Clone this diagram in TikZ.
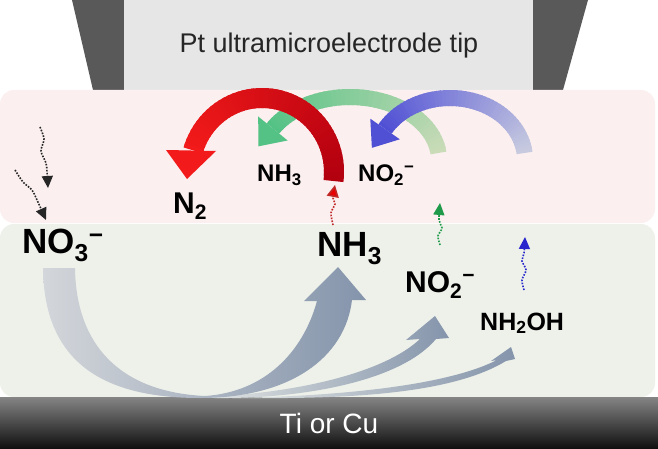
\documentclass[tikz,border=0pt]{standalone}
\usepackage{fontspec}
\setmainfont{Liberation Sans}
\usetikzlibrary{arrows.meta}

\definecolor{tipdark}{HTML}{595959}
\definecolor{tiplight}{HTML}{E6E6E6}
\definecolor{pinkbg}{HTML}{FBEFEF}
\definecolor{greenbg}{HTML}{EEF1EA}
\definecolor{barTop}{HTML}{858585}
\definecolor{barBot}{HTML}{0E0E0E}
\definecolor{redtail}{HTML}{B3000F}
\definecolor{redhead}{HTML}{F21A1A}
\definecolor{grntail}{HTML}{CADBB8}
\definecolor{grnhead}{HTML}{55C285}
\definecolor{blutail}{HTML}{C8CBDF}
\definecolor{bluhead}{HTML}{5050D5}
\definecolor{arrLight}{HTML}{D3D6DA}
\definecolor{arrFaint}{HTML}{E2E5E3}
\definecolor{arrDark}{HTML}{8494AB}
\definecolor{dotred}{HTML}{C02828}
\definecolor{headred}{HTML}{E80000}
\definecolor{dotgrn}{HTML}{1E9A4A}
\definecolor{dotblu}{HTML}{2626CC}

\newif\ifgbhead
\gbheadtrue
% gradient band along an elliptic arc: cx, cy, rx, ry, t0, t1, width, tail colour, head colour
\newcommand{\gbandarc}[9]{%
  \foreach \gbI in {0,...,47}{%
    \pgfmathsetmacro\gbA{#5+(#6-#5)*\gbI/48}%
    \pgfmathsetmacro\gbB{#5+(#6-#5)*min(\gbI+1.6,48)/48}%
    \pgfmathtruncatemacro\gbP{100*\gbI/47}%
    \colorlet{bandcol}{#9!\gbP!#8}%
    \draw[bandcol, line width=#7pt] plot[domain=\gbA:\gbB, samples=5, variable=\gbT] ({#1+#3*cos(\gbT)},{#2-#4*sin(\gbT)});%
  }%
  \ifgbhead
  \pgfmathsetmacro\gbBx{#1+#3*cos(#6)}%
  \pgfmathsetmacro\gbBy{#2-#4*sin(#6)}%
  \pgfmathsetmacro\gbDx{-#3*sin(#6)}%
  \pgfmathsetmacro\gbDy{-#4*cos(#6)}%
  \pgfmathsetmacro\gbN{sqrt(\gbDx*\gbDx+\gbDy*\gbDy)}%
  \pgfmathsetmacro\gbUx{\gbDx/\gbN}%
  \pgfmathsetmacro\gbUy{\gbDy/\gbN}%
  \fill[#9] ({\gbBx+\headL*\gbUx},{\gbBy+\headL*\gbUy}) -- ({\gbBx+\headH*\gbUy},{\gbBy-\headH*\gbUx}) -- ({\gbBx-\headH*\gbUy},{\gbBy+\headH*\gbUx}) -- cycle;%
  \fi
}

\tikzset{
  chem/.style={inner sep=0pt, anchor=base west, text=black},
  dotarrow/.style={line width=1.6pt, dash pattern=on 1.6pt off 1.4pt, -{Triangle[length=12pt,width=11pt]}},
}

\begin{document}
\begin{tikzpicture}[x=1pt,y=-1pt]
\useasboundingbox (0,0) rectangle (658,449);

% electrode tip
\fill[tipdark] (72,0) -- (588,0) -- (563,90) -- (93,90) -- cycle;
\fill[tiplight] (124,0) rectangle (533,90);
\node[font=\fontsize{27}{30}\selectfont, text=black!85, inner sep=0pt] (tiplabel) at (329,46) {Pt ultramicroelectrode tip};

% layers
\fill[pinkbg, rounded corners=14pt] (0,90) rectangle (655,223);
\fill[greenbg, rounded corners=14pt] (0,224) rectangle (655,397);

% substrate
\shade[top color=barTop, bottom color=barBot] (0,397) rectangle (658,449);
\node[font=\fontsize{28}{30}\selectfont, text=white, inner sep=0pt] (subst) at (329,423) {Ti or Cu};

% bottom conversion arrows
\shade[left color=arrFaint, right color=arrDark]
  (232,398) .. controls (350,396) and (450,384) .. (497,360) -- (491,361) -- (511,347) -- (515,359) -- (506,361)
  .. controls (455,392) and (360,399) .. (250,398) -- cycle;
\shade[left color=arrFaint, right color=arrDark]
  (205,397) .. controls (300,393) and (385,372) .. (420,339) -- (406,340) -- (435,316) -- (449,338) -- (436,339)
  .. controls (400,382) and (300,399) .. (215,398) -- cycle;
\shade[left color=arrLight, right color=arrDark]
  (43,268) .. controls (44,360) and (100,398) .. (200,398) .. controls (290,398) and (345,358) .. (352,300)
  -- (366,300) -- (338,267) -- (304,301) -- (317,301)
  .. controls (303,352) and (265,392) .. (205,396) .. controls (120,392) and (76,345) .. (75,268) -- cycle;

% tip reaction arcs
\def\headL{23}\def\headH{19}
\gbandarc{350}{160}{89}{63}{6.4}{150}{16}{grntail}{grnhead}
\def\headL{23}\def\headH{18}
\gbandarc{450}{160}{75}{62}{6.5}{150}{16}{blutail}{bluhead}
\gbheadfalse
\gbandarc{262}{172}{72}{74}{-7}{163}{20}{redtail}{redhead}
\coordinate (redtip) at (187,179);
\fill[redhead] (166,150) -- (216,151) -- (redtip) -- cycle;

% labels
\node[chem, font=\bfseries\fontsize{35}{40}\selectfont] (no3) at (22,253) {NO\textsubscript{3}\textsuperscript{−}};
\node[chem, font=\bfseries\fontsize{35}{40}\selectfont] (nh3b) at (317,256) {NH\textsubscript{3}};
\node[chem, font=\bfseries\fontsize{30}{34}\selectfont] (no2b) at (405,292) {NO\textsubscript{2}\textsuperscript{−}};
\node[chem, font=\bfseries\fontsize{25}{30}\selectfont] (nh2oh) at (480,330) {NH\textsubscript{2}OH};
\node[chem, font=\bfseries\fontsize{30}{34}\selectfont] (n2) at (173,213) {N\textsubscript{2}};
\node[chem, font=\bfseries\fontsize{24}{28}\selectfont] (nh3t) at (257,182) {NH\textsubscript{3}};
\node[chem, font=\bfseries\fontsize{24}{28}\selectfont] (no2t) at (358,182) {NO\textsubscript{2}\textsuperscript{−}};

% diffusion arrows
\coordinate (w1s) at (40,127); \coordinate (w1e) at (48,188);
\coordinate (w2s) at (15,170); \coordinate (w2e) at (46,220);
\coordinate (wrs) at (333,225); \coordinate (wre) at (335,185);
\coordinate (wgs) at (440,245); \coordinate (wge) at (440,203);
\coordinate (wbs) at (524,290); \coordinate (wbe) at (525,237);
\draw[dotarrow, black!85] plot[smooth] coordinates {(w1s) (44,139) (41,151) (46,163) (47,172) (w1e)};
\draw[dotarrow, black!85] plot[smooth] coordinates {(w2s) (23,182) (32,190) (37,200) (w2e)};
\draw[dotarrow, dotred, -{Triangle[length=12pt,width=12pt,fill=headred]}] plot[smooth] coordinates {(wrs) (331,213) (335,204) (333,198) (wre)};
\draw[dotarrow, dotgrn] plot[smooth] coordinates {(wgs) (438,236) (442,228) (439,220) (wge)};
\draw[dotarrow, dotblu] plot[smooth] coordinates {(wbs) (522,280) (526,270) (522,261) (524,253) (wbe)};
\end{tikzpicture}
\end{document}
